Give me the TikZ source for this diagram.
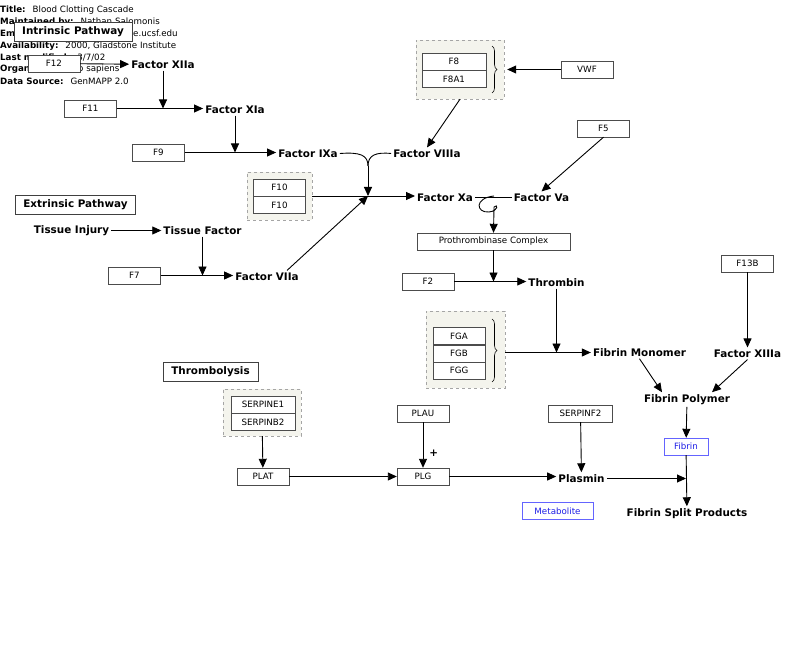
\documentclass[tikz,border=0pt]{standalone}
\usepackage{fontspec}
\setmainfont{DejaVu Sans}
\usetikzlibrary{arrows.meta, positioning, decorations.pathreplacing}

\definecolor{grpfill}{RGB}{244,244,237}
\definecolor{grpline}{RGB}{165,165,165}
\definecolor{metline}{RGB}{100,100,255}
\definecolor{mettext}{RGB}{30,30,230}

\begin{document}
\begin{tikzpicture}[
    x=1pt, y=-1pt,
    every node/.style={font=\fontsize{8.7}{10}\selectfont},
    gene/.style={rectangle, draw=black!70, fill=white, minimum width=52pt, minimum height=17pt, inner sep=1pt},
    metab/.style={rectangle, draw=metline, fill=white, text=mettext, minimum width=44pt, minimum height=17pt, inner sep=1pt},
    chem/.style={font=\fontsize{10.4}{12}\selectfont\bfseries, inner sep=2pt, yshift=-1.5pt},
    header/.style={rectangle, draw=black!75, fill=white, font=\fontsize{10.4}{12}\selectfont\bfseries, minimum height=19pt, inner xsep=8pt, yshift=-1pt},
    grp/.style={rectangle, draw=grpline, dashed, fill=grpfill},
    info/.style={anchor=west, inner sep=0pt},
    line/.style={-{Triangle[length=9pt, width=8pt]}, line width=0.9pt},
    link/.style={line width=0.9pt},
    curly/.style={decorate, decoration={brace, amplitude=5pt}, line width=0.6pt}
    ]
    \useasboundingbox (0,0) rectangle (800,647);

    % pathway info
    \begin{scope}
        \clip (0,0) rectangle (176,90);
        \node[info] (ititle) at (0,10) {\textbf{Title:}\hspace{7pt}Blood Clotting Cascade};
        \node[info] (imaint) at (0,21.9) {\textbf{Maintained by:}\hspace{7pt}Nathan Salomonis};
        \node[info] (imail) at (0,33.8) {\textbf{Email:}\hspace{7pt}nsalomonis@gladstone.ucsf.edu};
        \node[info] (iavail) at (0,45.7) {\textbf{Availability:}\hspace{7pt}2000, Gladstone Institute};
        \node[info] (imod) at (0,57.6) {\textbf{Last modified:}\hspace{7pt}3/7/02};
        \node[info] (iorg) at (0,69.5) {\textbf{Organism:}\hspace{7pt}Homo sapiens};
        \node[info] (isrc) at (0,81.4) {\textbf{Data Source:}\hspace{7pt}GenMAPP 2.0};
    \end{scope}

    % intrinsic pathway
    \node[header] (intr) at (73,30.5) {Intrinsic Pathway};
    \node[gene] (f12) at (54,63.5) {F12};
    \node[chem] (fxiia) at (163,63) {Factor XIIa};
    \node[gene] (f11) at (90.5,108.5) {F11};
    \node[chem] (fxia) at (235,108) {Factor XIa};
    \node[gene] (f9) at (158.5,152.5) {F9};
    \node[chem] (fixa) at (308,152) {Factor IXa};
    \node[chem] (fviiia) at (427,152) {Factor VIIIa};

    \node[grp, minimum width=88pt, minimum height=59pt] (f8grp) at (460,69.5) {};
    \node[gene, minimum width=64pt] (f8) at (454,61.5) {F8};
    \node[gene, minimum width=64pt, below=0pt of f8] (f8a1) {F8A1};
    \draw[curly] (492,46) -- (492,93);
    \node[gene] (vwf) at (587,69.5) {VWF};
    \node[gene] (f5) at (603.5,128.5) {F5};

    \node[grp, minimum width=65pt, minimum height=48pt] (f10grp) at (279.5,196) {};
    \node[gene] (f10a) at (279.5,187.5) {F10};
    \node[gene, below=0pt of f10a] (f10b) {F10};
    \node[chem] (fxa) at (445,196) {Factor Xa};
    \node[chem] (fva) at (541.5,196) {Factor Va};

    % extrinsic pathway
    \node[header] (extr) at (75.5,203.5) {Extrinsic Pathway};
    \node[chem] (injury) at (71.5,229) {Tissue Injury};
    \node[chem] (tf) at (202.5,229) {Tissue Factor};
    \node[gene] (f7) at (134.5,275.5) {F7};
    \node[chem] (fviia) at (267,275) {Factor VIIa};

    % common pathway
    \node[gene, minimum width=153pt] (prot) at (493.5,241.5) {Prothrombinase Complex};
    \node[gene] (f2) at (428,281.5) {F2};
    \node[chem] (thr) at (556.5,281) {Thrombin};

    \node[grp, minimum width=79pt, minimum height=77pt] (fggrp) at (465.5,349.5) {};
    \node[gene] (fga) at (459,336) {FGA};
    \node[gene, below=0pt of fga] (fgb) {FGB};
    \node[gene, below=0pt of fgb] (fgg) {FGG};
    \draw[curly] (492,319) -- (492,382);

    \node[chem] (fmono) at (639.5,351) {Fibrin Monomer};
    \node[gene] (f13b) at (747.5,263.5) {F13B};
    \node[chem] (fxiiia) at (747.5,352) {Factor XIIIa};
    \node[chem] (fpoly) at (687,398) {Fibrin Polymer};
    \node[metab] (fibrin) at (686,446.5) {Fibrin};
    \node[chem] (fsplit) at (687,512) {Fibrin Split Products};

    % thrombolysis
    \node[header] (throm) at (210.5,371) {Thrombolysis};
    \node[grp, minimum width=78pt, minimum height=47pt] (serpgrp) at (262,412.5) {};
    \node[gene, minimum width=64pt] (serpe1) at (263,404.5) {SERPINE1};
    \node[gene, minimum width=64pt, below=0pt of serpe1] (serpb2) {SERPINB2};
    \node[gene] (plat) at (263,476.5) {PLAT};
    \node[gene] (plau) at (423,413.5) {PLAU};
    \node[gene] (plg) at (423,476.5) {PLG};
    \node[gene, minimum width=64pt] (serpf2) at (580.5,413.5) {SERPINF2};
    \node[chem] (plasmin) at (581.5,477) {Plasmin};
    \node[metab, minimum width=71pt] (metab) at (557.5,511) {Metabolite};

    \coordinate (jmerge) at (368,166);
    \coordinate (jx) at (368,196);
    \coordinate (jxv) at (494,196);

    \draw[line] (f12) -- (fxiia);
    \draw[line] (fxiia) -- (fxiia |- f11);
    \draw[line] (f11) -- (f11 -| fxia.west);
    \draw[line] (fxia) -- (fxia |- f9);
    \draw[line] (f9) -- (f9 -| fixa.west);
    \draw[link] (fixa.east) .. controls (360,152) and (368,155) .. (jmerge);
    \draw[link] (fviiia.west) .. controls (376,152) and (368,155) .. (jmerge);
    \draw[line] (jmerge) -- (jx);
    \draw[line] (f10grp) -- (f10grp -| fxa.west);
    \draw[line] ([xshift=20pt]fviia.north) -- (jx);
    \draw[line] (f8grp.south) -- (fviiia.north);
    \draw[line] (vwf) -- ([xshift=3pt]f8grp.east);
    \draw[line] (f5.south) -- (fva.north);
    \draw[link] (fxa) -- (fva);
    \draw[line] (jxv) .. controls (474,198) and (476,213) .. (489,212) .. controls (499,211) and (498,203) .. (494,207) -- (prot.north);
    \draw[line] (prot) -- (prot |- f2);
    \draw[line] (f2) -- (f2 -| thr.west);
    \draw[line] (thr) -- (thr |- fmono);
    \draw[line] (fggrp.east |- fmono) -- (fmono);
    \draw[line] (fmono.south) -- ([xshift=-25pt]fpoly.north);
    \draw[line] (f13b) -- (fxiiia);
    \draw[line] (fxiiia.south) -- ([xshift=25pt]fpoly.north);
    \draw[line] (fpoly) -- (fibrin);
    \draw[line] (fibrin) -- (fsplit);
    \draw[line] (plasmin) -- (plasmin -| fibrin);
    \draw[line] (plg) -- (plg -| plasmin.west);
    \draw[line] (plat) -- (plg);
    \draw[line] (serpgrp) -- (plat);
    \draw[line] (plau) -- node[chem, pos=0.65, right=4pt] (plus) {+} (plg);
    \draw[line] (serpf2) -- (plasmin);
    \draw[line] (injury) -- (tf);
    \draw[line] (tf) -- (tf |- f7);
    \draw[line] (f7) -- (f7 -| fviia.west);
\end{tikzpicture}
\end{document}
